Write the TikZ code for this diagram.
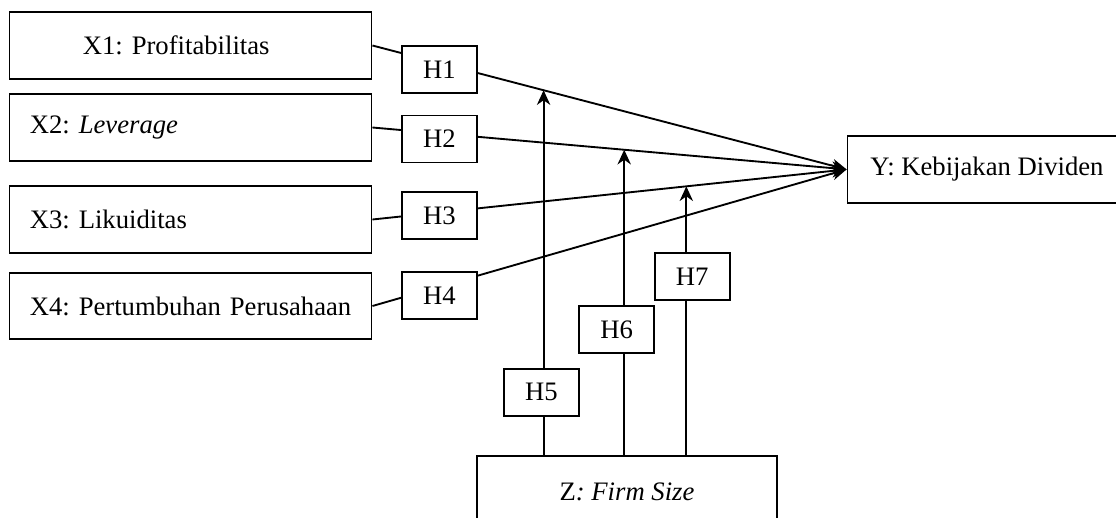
\documentclass[tikz,border=0pt]{standalone}
\usepackage{fontspec}
\setmainfont{Liberation Serif}
\usetikzlibrary{arrows.meta,calc}
\tikzset{
  % variable boxes
  varbox/.style={draw,line width=1.4pt,minimum height=50pt,inner sep=0pt},
  xbox/.style={varbox,text width=240.9pt,inner xsep=15.3pt,align=left},
  % hypothesis labels
  hyp/.style={draw,line width=1.4pt,fill=white,minimum width=56.25pt,minimum height=35.25pt,inner sep=0pt},
  % effect arrows
  effect/.style={line width=1.4pt,-{Stealth[length=11pt,width=10pt,inset=3.5pt]}},
}

\begin{document}
\begin{tikzpicture}[
  x=0.75pt,y=-0.75pt,
  every node/.style={font=\fontsize{20}{24}\selectfont\frenchspacing},
]
\useasboundingbox (0,0) rectangle (1116,517);

%% independent variables
\foreach \i/\yy/\txt in {1/45.5/{\hspace*{39.75pt}X1: Profitabilitas},
                          2/127.5/{X2: \textit{Leverage}},
                          3/219.5/{X3: Likuiditas},
                          4/306/{X4: Pertumbuhan Perusahaan}}{
  \node[xbox] (x\i) at (190.5,\yy) {\mbox{\txt}};
}

%% dependent and moderating variables
\node[varbox,minimum width=209.25pt] (y) at (987,169.4) {Y: Kebijakan Dividen};
\node[varbox,minimum width=225.5pt,minimum height=54pt] (z) at (627,491.7) {Z\textit{: Firm Size}};

%% direct effects
\foreach \i in {1,...,4}{
  \draw[effect] (x\i.east) -- (y.west);
}

%% moderation: Z onto the paths X1, X2, X3
\coordinate (t5) at ($(x1.east)!0.361!(y.west)$);
\coordinate (t6) at ($(x2.east)!0.531!(y.west)$);
\coordinate (t7) at ($(x3.east)!0.662!(y.west)$);
\foreach \k in {5,6,7}{
  \draw[effect] (z.north -| t\k) -- (t\k);
}

%% hypothesis labels (on top of the lines)
\foreach \i/\px/\py in {1/439.3/69.5, 2/439.3/139, 3/439.3/215.5, 4/439.3/295.5,
                        5/541.5/392.2, 6/616.7/329.7, 7/692.2/276.8}{
  \node[hyp] (h\i) at (\px,\py) {H\i};
}
\end{tikzpicture}
\end{document}
